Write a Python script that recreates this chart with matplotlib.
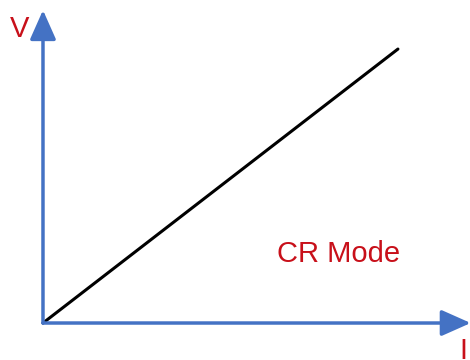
import matplotlib.pyplot as plt

# CR mode: V rises linearly with I
current = [0, 10]
voltage = [0, 10]

axis_blue = '#4472C4'
label_red = '#C8101A'

fig = plt.figure(figsize=(4.7, 3.6), dpi=100)
ax = fig.add_axes([0, 0, 1, 1])
ax.set_xlim(-1.211, 12.03)
ax.set_ylim(-1.350, 11.79)
ax.axis('off')

# axes arrows
arrow = dict(arrowstyle='-|>,head_length=0.9,head_width=0.4', mutation_scale=20,
             color=axis_blue, lw=2.5, shrinkA=0, shrinkB=0)
ax.annotate('', xy=(12.05, 0), xytext=(0, 0), arrowprops=arrow,
            annotation_clip=False)
ax.annotate('', xy=(0, 11.42), xytext=(0, 0), arrowprops=arrow,
            annotation_clip=False)

ax.plot(current, voltage, color='black', lw=2.2, solid_capstyle='round')

font = 'Liberation Sans'
ax.text(-0.93, 10.44, 'V', color=label_red, fontsize=21, family=font,
        ha='left', va='baseline', clip_on=False)
ax.text(11.72, -1.30, 'I', color=label_red, fontsize=21, family=font,
        ha='left', va='baseline', clip_on=False)
ax.text(6.59, 2.23, 'CR Mode', color=label_red, fontsize=21, family=font,
        ha='left', va='baseline')

fig.savefig('out.png', dpi=100)
